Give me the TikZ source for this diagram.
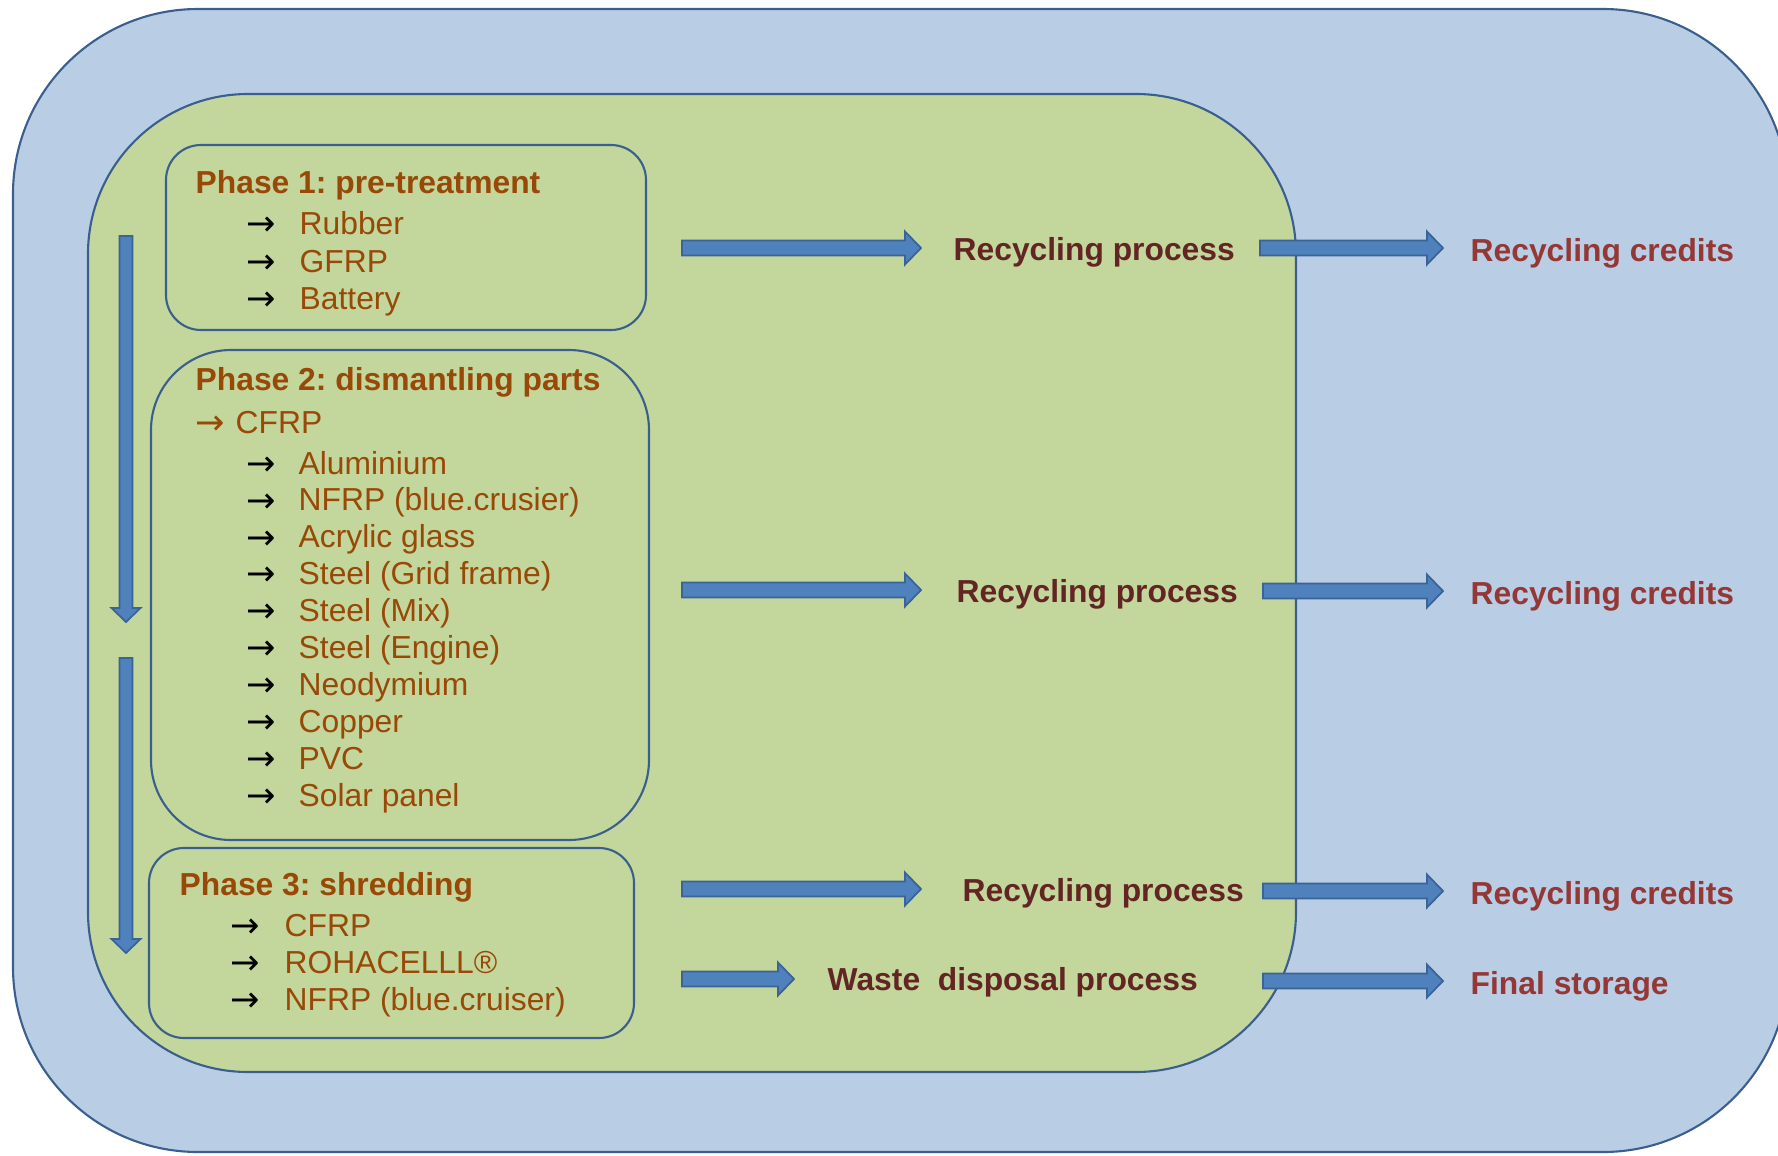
\documentclass[tikz,border=0pt]{standalone}
\usepackage{fontspec}
\setmainfont{Liberation Sans}
\newfontfamily\arrowfont{DejaVu Sans}
\definecolor{outerfill}{HTML}{B9CDE5}
\definecolor{innerfill}{HTML}{C3D69B}
\definecolor{frame}{HTML}{3A5F8F}
\definecolor{arrowfill}{HTML}{4F81BD}
\definecolor{arrowedge}{HTML}{3A6496}
\definecolor{phasetext}{HTML}{984807}
\definecolor{proctext}{HTML}{632523}
\definecolor{credtext}{HTML}{953735}

% horizontal block arrow: start x, tip x, centre y
\newcommand\hblock[3]{%
  \draw[blockarrow] (#1,#3-7.5) -- (#2-16,#3-7.5) -- (#2-16,#3-16.5) -- (#2,#3)
    -- (#2-16,#3+16.5) -- (#2-16,#3+7.5) -- (#1,#3+7.5) -- cycle;}
% vertical block arrow: centre x, top y, tip y
\newcommand\vblock[3]{%
  \draw[blockarrow] (#1-6.5,#2) -- (#1+6.5,#2) -- (#1+6.5,#3-14) -- (#1+14.5,#3-14)
    -- (#1,#3) -- (#1-14.5,#3-14) -- (#1-6.5,#3-14) -- cycle;}
% list entry: name, arrow x, text x, centre y, text
\newcommand\listentry[5]{%
  \node[bullet] (#1a) at (#2,#4) {→};
  \node[entry] (#1) at (#3,#4) {#5};}

\begin{document}
\frenchspacing
\begin{tikzpicture}[x=0.1mm,y=-0.1mm,
  every node/.style={font=\fontsize{9.05pt}{11pt}\selectfont, inner sep=0pt,
    anchor=west, text height=0.716em, text depth=0pt},
  boxline/.style={draw=frame, line width=0.6pt},
  blockarrow/.style={fill=arrowfill, draw=arrowedge, line width=0.5pt, line join=miter},
  heading/.style={text=phasetext, font=\fontsize{9.05pt}{11pt}\selectfont\bfseries},
  entry/.style={text=phasetext},
  bullet/.style={text=black, font=\fontsize{10pt}{11pt}\arrowfont, text height=0.62em,
    yshift=-0.8pt},
  process/.style={text=proctext, font=\fontsize{9.05pt}{11pt}\selectfont\bfseries},
  result/.style={text=credtext, font=\fontsize{9.05pt}{11pt}\selectfont\bfseries}]

\useasboundingbox (0,0) rectangle (1778,1156);

% outer and inner regions
\draw[boxline, fill=outerfill, rounded corners=18.5mm] (13,9) rectangle (1788,1152);
\draw[boxline, fill=innerfill, rounded corners=16mm] (88,94) rectangle (1296,1072);

% phase boxes
\draw[boxline, rounded corners=3.5mm] (166,145) rectangle (646,330);
\draw[boxline, rounded corners=8mm] (151,350) rectangle (649,840);
\draw[boxline, rounded corners=3.5mm] (149,848) rectangle (634,1038);

% phase sequence arrows
\vblock{126}{236}{622}
\vblock{126}{658}{953}

% phase 1
\node[heading] (h1) at (195,181) {Phase 1: pre-treatment};
\listentry{rubber}{246}{299}{222}{Rubber}
\listentry{gfrp}{246}{299}{260}{GFRP}
\listentry{battery}{246}{299}{297}{Battery}

% phase 2
\node[heading] (h2) at (195,378) {Phase 2: dismantling parts};
\node[bullet, text=phasetext] (cfrpa) at (195,421) {→};
\node[entry] (cfrp) at (235,421) {CFRP};
\listentry{alu}{246}{298}{461.5}{Aluminium}
\listentry{nfrp}{246}{298}{498.4}{NFRP (blue.crusier)}
\listentry{acryl}{246}{298}{535.3}{Acrylic glass}
\listentry{grid}{246}{298}{572.2}{Steel (Grid frame)}
\listentry{mix}{246}{298}{609.1}{Steel (Mix)}
\listentry{engine}{246}{298}{646.0}{Steel (Engine)}
\listentry{neo}{246}{298}{682.9}{Neodymium}
\listentry{copper}{246}{298}{719.8}{Copper}
\listentry{pvc}{246}{298}{756.7}{PVC}
\listentry{solar}{246}{298}{793.6}{Solar panel}

% phase 3
\node[heading] (h3) at (179,883) {Phase 3: shredding};
\listentry{scfrp}{230}{284}{924}{CFRP}
\listentry{roha}{230}{284}{961}{ROHACELLL®}
\listentry{snfrp}{230}{284}{998}{NFRP (blue.cruiser)}

% processes
\node[process] (p1) at (953,248) {Recycling process};
\node[process] (p2) at (956,590) {Recycling process};
\node[process] (p3) at (962,889) {Recycling process};
\node[process] (p4) at (827,978) {Waste\ \ disposal process};

% outcomes
\node[result] (c1) at (1470,249) {Recycling credits};
\node[result] (c2) at (1470,592) {Recycling credits};
\node[result] (c3) at (1470,892) {Recycling credits};
\node[result] (c4) at (1470,982) {Final storage};

% flow arrows
\hblock{682}{921}{248}
\hblock{1260}{1443}{248}
\hblock{682}{921}{590}
\hblock{1263}{1443}{591}
\hblock{682}{921}{889}
\hblock{1263}{1443}{891}
\hblock{682}{794}{979}
\hblock{1263}{1443}{981}
\end{tikzpicture}
\end{document}
